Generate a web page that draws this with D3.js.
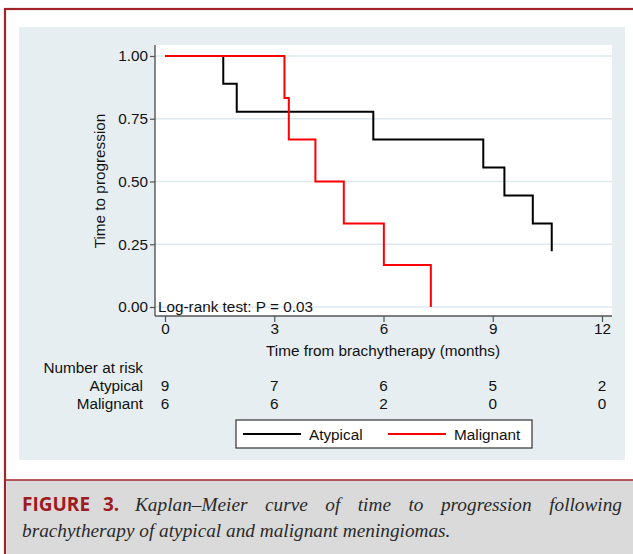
<!DOCTYPE html>
<html>
<head>
<meta charset="utf-8">
<script src="https://cdn.jsdelivr.net/npm/d3@7"></script>
<style>
  body { margin: 0; background: #fff; }
  text { font-family: "Liberation Sans", Arial, sans-serif; fill: #111; }
</style>
</head>
<body>
<div id="myChart"></div>
<script>
// data
const atypTimes = [0, 1.6, 1.97, 5.72, 8.74, 9.32, 10.1, 10.62];
const atypSurv = [1, 0.889, 0.778, 0.667, 0.556, 0.444, 0.333, 0.222];
const maligTimes = [0, 3.28, 3.4, 4.13, 4.91, 6.01, 7.3];
const maligSurv = [1, 0.833, 0.667, 0.5, 0.333, 0.167, 0];

const xTicks = [0, 3, 6, 9, 12];
const yTicks = [0, 0.25, 0.5, 0.75, 1];
const groups = ["Atypical", "Malignant"];
const atypRisk = [9, 7, 6, 5, 2];
const maligRisk = [6, 6, 2, 0, 0];
const colors = ["#000000", "#ff0000"];

const W = 633, H = 554;
const fs = "15.3px";
const svg = d3.select("#myChart").append("svg").attr("width", W).attr("height", H);

// outer frame + caption box
svg.append("rect").attr("x", 5).attr("y", 9).attr("width", W + 10).attr("height", H + 10)
  .attr("fill", "#fff").attr("stroke", "#a3232b").attr("stroke-width", 2.2);
svg.append("rect").attr("x", 6).attr("y", 480).attr("width", W).attr("height", H)
  .attr("fill", "#dadada");
svg.append("line").attr("x1", 6).attr("x2", W).attr("y1", 480).attr("y2", 480)
  .attr("stroke", "#a3232b").attr("stroke-width", 1.5);

// graph panel
svg.append("rect").attr("x", 19).attr("y", 27).attr("width", 606).attr("height", 433)
  .attr("fill", "#e6eef1");
svg.append("rect").attr("x", 155).attr("y", 45).attr("width", 457).attr("height", 271)
  .attr("fill", "#fff");

const x = d3.scaleLinear().domain([0, 12]).range([165, 602]);
const y = d3.scaleLinear().domain([0, 1]).range([307, 56]);

// grid
svg.append("g").selectAll("line").data(yTicks).enter().append("line")
  .attr("x1", 155).attr("x2", 612)
  .attr("y1", (d) => y(d)).attr("y2", (d) => y(d))
  .attr("stroke", "#dde9ee").attr("stroke-width", 1.6);

// axes
const yAxis = svg.append("g").attr("transform", "translate(155,0)")
  .call(d3.axisLeft(y).tickValues(yTicks).tickFormat(d3.format(".2f")).tickSizeOuter(0).tickSize(5).tickPadding(2));
const xAxis = svg.append("g").attr("transform", "translate(0,316)")
  .call(d3.axisBottom(x).tickValues(xTicks).tickSizeOuter(0).tickSize(6).tickPadding(1));
[yAxis, xAxis].forEach((a) => {
  a.select(".domain").remove();
  a.selectAll("line").attr("stroke", "#555").attr("stroke-width", 1.2);
  a.selectAll("text").style("font-size", fs).attr("fill", "#111");
});
svg.append("line").attr("x1", 155).attr("x2", 155).attr("y1", 45).attr("y2", 316)
  .attr("stroke", "#555").attr("stroke-width", 1.4);
svg.append("line").attr("x1", 155).attr("x2", 612).attr("y1", 316).attr("y2", 316)
  .attr("stroke", "#555").attr("stroke-width", 1.4);

// axis titles
svg.append("text").attr("transform", "translate(105,181) rotate(-90)")
  .style("text-anchor", "middle").style("font-size", fs).text("Time to progression");
svg.append("text").attr("x", 383).attr("y", 356)
  .style("text-anchor", "middle").style("font-size", fs).text("Time from brachytherapy (months)");

// KM curves
const line = d3.line().x((d) => x(d[0])).y((d) => y(d[1])).curve(d3.curveStepAfter);
const series = [d3.zip(atypTimes, atypSurv), d3.zip(maligTimes, maligSurv)];
svg.selectAll(".km").data(series).enter().append("path")
  .attr("class", "km")
  .attr("d", line)
  .attr("fill", "none")
  .attr("stroke", (d, i) => colors[i])
  .attr("stroke-width", 2);

svg.append("text").attr("x", 158).attr("y", 312).style("font-size", fs)
  .text("Log-rank test: P = 0.03");

// number at risk
svg.append("text").attr("x", 143).attr("y", 373).style("text-anchor", "end")
  .style("font-size", fs).text("Number at risk");
[atypRisk, maligRisk].forEach((row, i) => {
  const yy = 391 + i * 17.5;
  svg.append("text").attr("x", 143).attr("y", yy).style("text-anchor", "end")
    .style("font-size", fs).text(groups[i]);
  svg.selectAll(".risk" + i).data(row).enter().append("text")
    .attr("x", (d, j) => x(xTicks[j])).attr("y", yy)
    .style("text-anchor", "middle").style("font-size", fs).text((d) => d);
});

// legend
svg.append("rect").attr("x", 236).attr("y", 420).attr("width", 296).attr("height", 28)
  .attr("fill", "#fff").attr("stroke", "#333").attr("stroke-width", 1.2);
const legX = [243, 388];
groups.forEach((g, i) => {
  svg.append("line").attr("x1", legX[i]).attr("x2", legX[i] + 58)
    .attr("y1", 434).attr("y2", 434).attr("stroke", colors[i]).attr("stroke-width", 2);
  svg.append("text").attr("x", legX[i] + 66).attr("y", 439.5)
    .style("font-size", fs).text(g);
});

// caption
svg.append("text").attr("x", 22).attr("y", 511)
  .style("font-family", "'Open Sans', 'Liberation Sans', sans-serif")
  .style("font-weight", "bold").style("font-size", "19px").style("fill", "#9e1b22")
  .style("word-spacing", "8px")
  .text("FIGURE 3.");
const capWords = ["Kaplan–Meier", "curve", "of", "time", "to", "progression", "following"];
const capStyle = (t) => t.style("font-family", "'Liberation Serif', serif")
  .style("font-style", "italic").style("font-size", "19.3px").style("fill", "#2a2a2a");
const words = capWords.map((w) => capStyle(svg.append("text").attr("y", 511).text(w)));
const widths = words.map((t) => t.node().getComputedTextLength());
const gap = (622 - 135 - d3.sum(widths)) / (capWords.length - 1);
let cx = 135;
words.forEach((t, i) => { t.attr("x", cx); cx += widths[i] + gap; });
capStyle(svg.append("text").attr("x", 22).attr("y", 537))
  .text("brachytherapy of atypical and malignant meningiomas.");
</script>
</body>
</html>
